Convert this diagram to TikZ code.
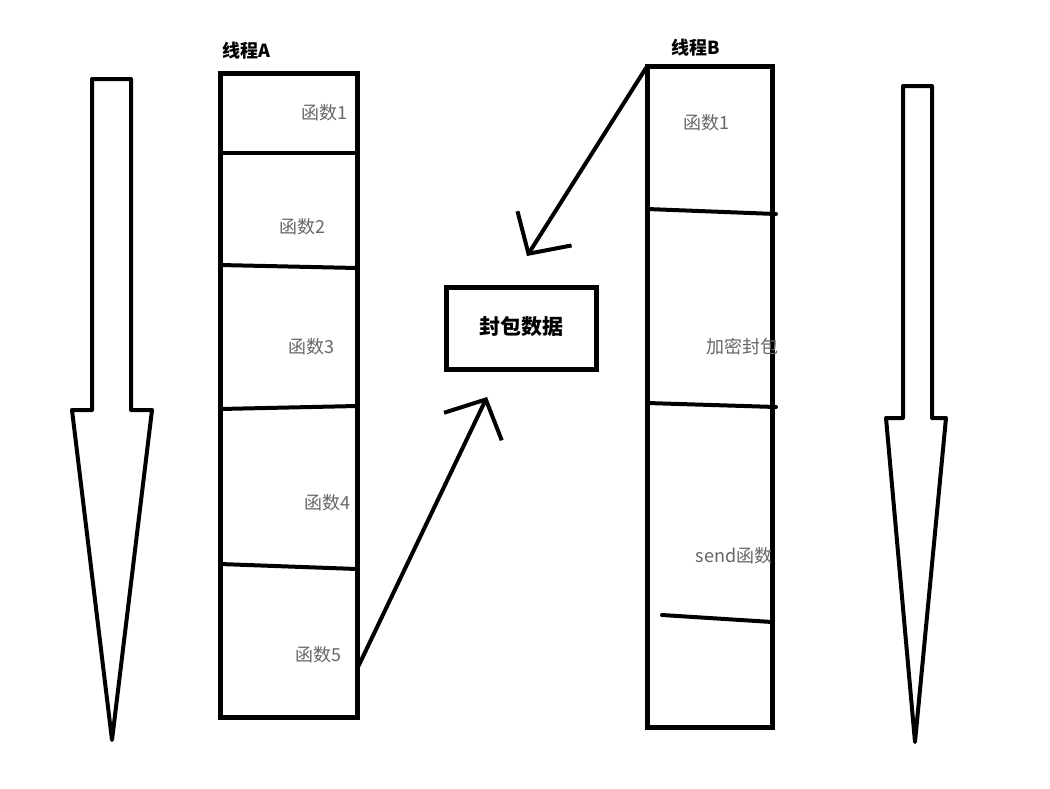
\documentclass[tikz,border=0pt]{standalone}
\usepackage{fontspec}
\newfontfamily\cjk{Noto Sans CJK SC}
\usetikzlibrary{arrows.meta}
\begin{document}
\begin{tikzpicture}
            [x=1pt, y=-1pt,
            col/.style={draw, line width=5pt, inner sep=0pt},
            divider/.style={line width=4pt, line cap=round},
            label/.style={font=\cjk\fontsize{18}{21}\selectfont, text=black!60},
            title/.style={font=\cjk\bfseries\fontsize{18}{21}\selectfont},
            flow/.style={line width=4pt, line join=round},
            push/.style={line width=4pt, line cap=round,
                -{Straight Barb[length=30pt, width=64pt, line width=4pt]}}]

            \useasboundingbox (0,0) rectangle (1050,788);

            % Time arrows
            \draw[flow] (92,79) -- (131,79) -- (131,410) -- (152,410) -- (112,740)
                -- (72,410) -- (92,410) -- cycle;
            \draw[flow] (903,86) -- (932,86) -- (932,418) -- (946,418) -- (915,742)
                -- (886,418) -- (903,418) -- cycle;

            % Thread A
            \node[col, minimum width=137pt, minimum height=644pt] (A) at (288.5,395) {};
            \node[title, anchor=south west] (tA) at (219,63) {线程A};
            \draw[divider] (220,153) -- (357,153);
            \draw[divider] (220,265) -- (357,268);
            \draw[divider] (220,409) -- (357,406);
            \draw[divider] (220,564) -- (357,569);
            \node[label] (a1) at (324,113) {函数1};
            \node[label] (a2) at (302,227) {函数2};
            \node[label] (a3) at (311,347) {函数3};
            \node[label] (a4) at (327,503) {函数4};
            \node[label] (a5) at (318,655) {函数5};

            % Thread B
            \node[col, minimum width=125pt, minimum height=661pt] (B) at (709.5,396.5) {};
            \node[title, anchor=south west] (tB) at (668,60) {线程B};
            \draw[divider] (647,209) -- (776,214);
            \draw[divider] (647,403) -- (776,407);
            \draw[divider] (662,615) -- (772,622);
            \node[label] (b1) at (706,123) {函数1};
            \node[label] (b2) at (742,347) {加密封包};
            \node[label] (b3) at (734,556) {send函数};

            % Packed data
            \node[col, minimum width=150pt, minimum height=82pt] (pack) at (521,328) {};
            \node[title, font=\cjk\bfseries\fontsize{21}{25}\selectfont] (packtxt) at (521,327) {封包数据};

            \coordinate (outA) at (358,667);
            \coordinate (inA) at (487,397);
            \coordinate (outB) at (646,68);
            \coordinate (inB) at (527,256);
            \draw[push] (outA) -- (inA);
            \draw[push] (outB) -- (inB);

        \end{tikzpicture}
\end{document}
